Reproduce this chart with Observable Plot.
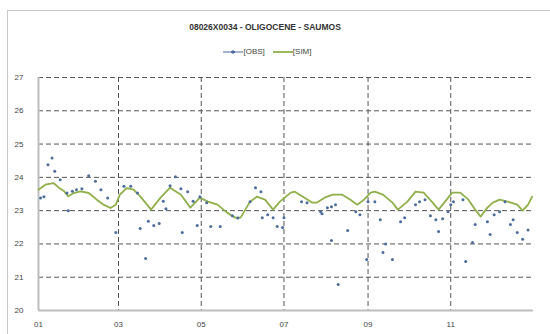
<!DOCTYPE html>
<html><head><meta charset="utf-8">
<script src="https://cdn.jsdelivr.net/npm/d3@7"></script>
<script src="https://cdn.jsdelivr.net/npm/@observablehq/plot@0.6"></script>
<style>
body{margin:0;background:#fff;font-family:"Liberation Sans",Arial,sans-serif;}
#wrap{position:relative;width:550px;height:334px;overflow:hidden;}
#frame{position:absolute;left:7px;top:10px;width:545px;height:330px;border:1px solid #c8c8c8;box-sizing:border-box;}
#title{position:absolute;left:0;width:530px;top:22px;text-align:center;font-size:8.5px;font-weight:bold;color:#333;}
#legend{position:absolute;left:0;width:535px;top:47px;text-align:center;font-size:8px;color:#444;}
#legend span{display:inline-flex;align-items:center;margin:0 4px;}
#chart{position:absolute;left:0;top:65px;}
</style></head>
<body><div id="wrap"><div id="frame"></div>
<div id="title">08026X0034 - OLIGOCENE - SAUMOS</div>
<div id="legend"></div>
<div id="chart"></div></div>
<script>
const title = "08026X0034 - OLIGOCENE - SAUMOS";
const seriesNames = ["[OBS]", "[SIM]"];
const yTicks = [20, 21, 22, 23, 24, 25, 26, 27];
const xTickMonths = [0, 2, 4, 6, 8, 10];
const xTickLabels = ["01", "03", "05", "07", "09", "11"];
const year = 2013;

// observed values: day of year, level
const obsDay = [1.5,4,7,10,12,16,21,22,25,28,32,37,42,46,51,57,63,68,73,75,79,81,85,89,92,94,97,101,105,106,110,114,117,119,124,127,134,143,147,156,160,164,165,169,173,176,180,181,194,198,208,209,213,216,219,216,221,228,234,237,242,243,248,252,254,256,261,267,270,278,281,285,289,293,295,298,302,304,306,313,315,320,322,331,333,336,340,344,348,350,353,357,361];
const obsVal = [23.38,23.42,24.38,24.58,24.18,23.93,23.53,23.0,23.58,23.63,23.66,24.05,23.88,23.63,23.38,22.34,23.73,23.73,23.53,22.46,21.56,22.68,22.55,22.61,23.28,23.06,23.75,24.02,23.66,22.34,23.57,23.28,22.55,23.42,23.24,22.52,22.52,22.85,22.78,23.27,23.69,23.57,22.79,22.88,22.79,22.52,22.49,22.79,23.27,23.24,22.97,22.91,23.09,23.12,23.18,22.1,20.78,22.4,22.97,22.88,21.53,23.27,23.27,22.73,21.74,22.0,21.53,22.67,22.79,23.18,23.27,23.33,22.85,22.73,22.37,22.76,22.97,23.18,23.27,23.33,21.47,22.04,22.58,22.67,22.28,22.88,22.97,23.27,22.58,22.73,22.34,22.14,22.42];

// simulated values: day of year, level
const simDay = [0,5,11,15,19,22,26,31,37,43,48,53,57,60,65,70,75,80,83,90,97,105,112,119,125,132,139,145,149,156,161,167,173,178,186,189,195,202,205,211,217,224,230,235,240,245,248,254,261,265,272,278,284,290,295,301,305,311,317,322,326,331,335,340,346,353,357,361,364];
const simVal = [23.63,23.78,23.83,23.69,23.58,23.43,23.53,23.58,23.53,23.33,23.18,23.08,23.18,23.48,23.68,23.63,23.43,23.18,23.03,23.39,23.69,23.48,23.09,23.39,23.27,23.18,22.94,22.79,22.79,23.27,23.42,23.33,23.03,23.27,23.54,23.57,23.42,23.24,23.24,23.39,23.48,23.48,23.33,23.18,23.33,23.54,23.57,23.48,23.24,23.03,23.27,23.57,23.54,23.27,23.03,23.33,23.54,23.54,23.33,23.03,22.82,23.09,23.24,23.33,23.27,23.18,23.0,23.18,23.42];

const obsColor = "#4b6c9c", simColor = "#8fb04a";
const start = new Date(Date.UTC(year, 0, 1));
const end = new Date(Date.UTC(year + 1, 0, 1));
const toDate = d => new Date(start.getTime() + d * 864e5);
const obs = obsDay.map((d, i) => ({date: toDate(d), v: obsVal[i]}));
const sim = simDay.map((d, i) => ({date: toDate(d), v: simVal[i]}));
const tickDates = xTickMonths.map(m => new Date(Date.UTC(year, m, 1)));

document.getElementById("title").textContent = title;
document.getElementById("legend").innerHTML =
  `<span><svg width="20" height="8"><line x1="0" y1="4" x2="20" y2="4" stroke="${obsColor}" stroke-width="1"/><line x1="8" y1="4" x2="12" y2="4" stroke="${obsColor}" stroke-width="2"/><line x1="10" y1="2" x2="10" y2="6" stroke="${obsColor}" stroke-width="1.2"/></svg>${seriesNames[0]}</span>` +
  `<span><svg width="20" height="8"><line x1="0" y1="4" x2="20" y2="4" stroke="${simColor}" stroke-width="1.8"/></svg>${seriesNames[1]}</span>`;

const chart = Plot.plot({
  width: 550, height: 269,
  marginTop: 12, marginBottom: 24, marginLeft: 38, marginRight: 17,
  x: {type: "utc", domain: [start, end]},
  y: {domain: [20, 27]},
  style: {fontFamily: "Liberation Sans, Arial, sans-serif", fontSize: "8px", color: "#444", background: "transparent"},
  marks: [
    Plot.ruleY(yTicks.filter(v => v > 20), {stroke: "#555", strokeDasharray: "5,3", strokeWidth: 1}),
    Plot.ruleX(tickDates.slice(1), {stroke: "#555", strokeDasharray: "5,3", strokeWidth: 1}),
    Plot.ruleY([20], {stroke: "#bdbdbd", strokeWidth: 2}),
    Plot.ruleX([start], {stroke: "#bdbdbd", strokeWidth: 2}),
    Plot.axisY({ticks: yTicks, tickFormat: d => String(d), tickSize: 0, tickPadding: 15, label: null}),
    Plot.axisX({ticks: tickDates, tickFormat: (d, i) => xTickLabels[i], tickSize: 0, tickPadding: 11, label: null}),
    Plot.line(sim, {x: "date", y: "v", stroke: simColor, strokeWidth: 1.8}),
    Plot.dot(obs, {x: "date", y: "v", r: 1.5, fill: obsColor, stroke: "none"})
  ]
});
document.getElementById("chart").appendChild(chart);
</script>
</body></html>
